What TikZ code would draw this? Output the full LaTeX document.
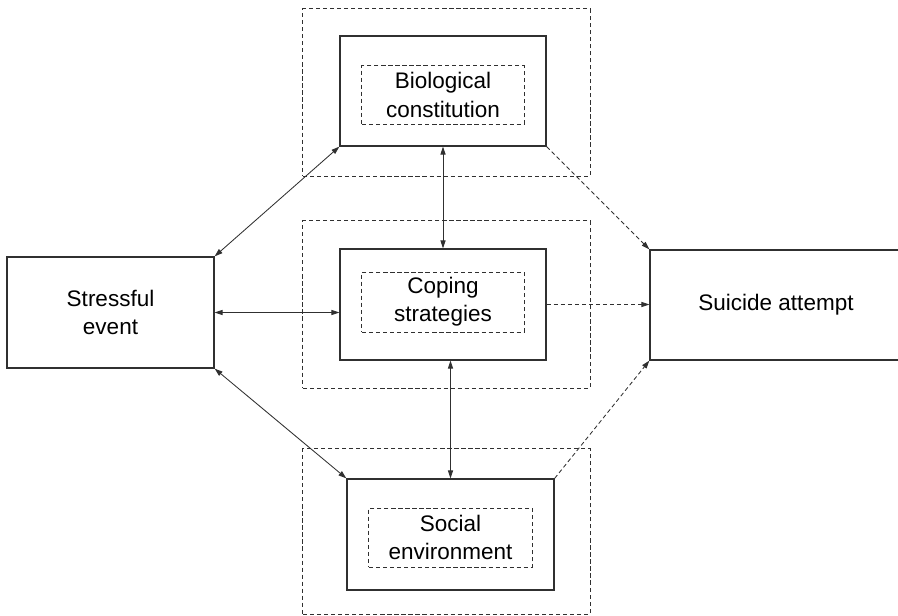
\documentclass[tikz,border=0pt]{standalone}
\usepackage{fontspec}
\setmainfont{Liberation Sans}
\usepackage{tikz}
\usetikzlibrary{arrows.meta}
\definecolor{kline}{HTML}{303030}

\begin{document}
\begin{tikzpicture}[x=0.025cm, y=-0.025cm,
    factor/.style={draw=kline, line width=0.9pt, inner sep=0pt, align=center,
      font=\fontsize{16}{20}\selectfont},
    field/.style={draw=kline, line width=0.7pt, dash pattern=on 3pt off 2pt, inner sep=0pt,
      minimum width=7.175cm},
    core/.style={draw=kline, line width=0.7pt, dash pattern=on 3pt off 2pt, inner sep=0pt,
      align=center, minimum width=4.05cm, font=\fontsize{16}{20}\selectfont},
    link/.style={kline, line width=0.6pt, {Triangle[length=0.2cm,width=0.13cm]}-{Triangle[length=0.2cm,width=0.13cm]}},
    effect/.style={kline, line width=0.6pt, dash pattern=on 3pt off 2pt, -{Triangle[length=0.2cm,width=0.13cm]}}]

  \useasboundingbox (0,0) rectangle (898,616);
  \clip (0,0) rectangle (898,616);

  %% Outer dashed fields
  \node[field, minimum height=4.175cm] (biofield) at (446.5,92.5) {};
  \node[field, minimum height=4.175cm] (copefield) at (446.5,304.5) {};
  \node[field, minimum height=4.125cm] (socfield) at (446.5,531.5) {};

  %% Factor boxes
  \node[factor, minimum width=5.175cm, minimum height=2.775cm] (stress) at (110.5,312.5)
    {Stressful\\event};
  \node[factor, minimum width=6.3cm, minimum height=2.75cm] (suicide) at (776,305)
    {Suicide attempt};
  \node[factor, minimum width=5.15cm, minimum height=2.75cm] (bio) at (443,91) {};
  \node[factor, minimum width=5.15cm, minimum height=2.775cm] (coping) at (443,304.5) {};
  \node[factor, minimum width=5.175cm, minimum height=2.775cm] (social) at (450.5,534.5) {};

  %% Inner dashed cores
  \node[core, minimum height=1.45cm] (biocore) at (443,95) {Biological\\constitution};
  \node[core, minimum height=1.5cm] (copecore) at (443,302) {Coping\\strategies};
  \node[core, minimum width=4.075cm, minimum height=1.475cm] (soccore) at (450.5,537.5)
    {Social\\environment};

  %% Mutual links
  \draw[link] (stress.north east) -- (bio.south west);
  \draw[link] (stress.east) -- (stress.east -| coping.west);
  \draw[link] (stress.south east) -- (social.north west);
  \draw[link] (bio.south) -- (coping.north);
  \draw[link] (coping.south -| social.north) -- (social.north);

  %% Effects on the outcome
  \draw[effect] (bio.south east) -- (suicide.north west);
  \draw[effect] (coping.east) -- (coping.east -| suicide.west);
  \draw[effect] (social.north east) -- (suicide.south west);

\end{tikzpicture}
\end{document}
